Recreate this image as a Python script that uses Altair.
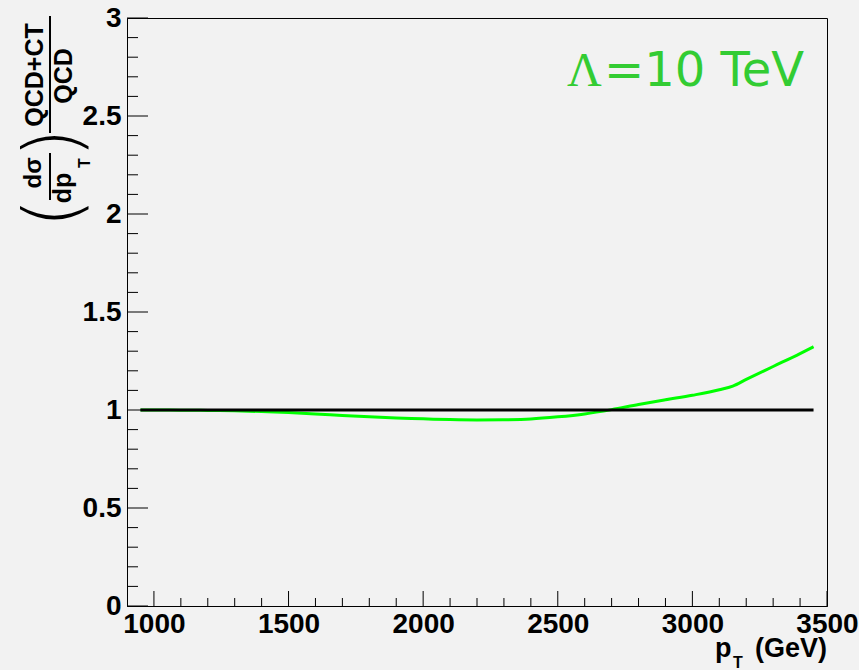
import altair as alt
import pandas as pd

# ---- data ----
pt = [950, 1000, 1100, 1200, 1300, 1400, 1500, 1600, 1700, 1800, 1900, 2000,
      2100, 2200, 2300, 2400, 2500, 2600, 2700, 2800, 2900, 3000, 3100, 3150,
      3200, 3300, 3400, 3450]
ratio = [1.000, 1.000, 0.999, 0.998, 0.996, 0.992, 0.987, 0.980, 0.972, 0.965,
         0.959, 0.955, 0.951, 0.949, 0.950, 0.954, 0.965, 0.980, 1.002, 1.028,
         1.052, 1.075, 1.103, 1.122, 1.156, 1.222, 1.288, 1.323]
ref_pt = [950, 3450]
ref_ratio = [1.0, 1.0]

x_major = [1000, 1500, 2000, 2500, 3000, 3500]
x_minor = [1100, 1200, 1300, 1400, 1600, 1700, 1800, 1900, 2100, 2200, 2300,
           2400, 2600, 2700, 2800, 2900, 3100, 3200, 3300, 3400]
y_major = [0, 0.5, 1, 1.5, 2, 2.5, 3]
y_minor = [0.1, 0.2, 0.3, 0.4, 0.6, 0.7, 0.8, 0.9, 1.1, 1.2, 1.3, 1.4, 1.6,
           1.7, 1.8, 1.9, 2.1, 2.2, 2.3, 2.4, 2.6, 2.7, 2.8, 2.9]

W, H = 700, 588
BG = "#f2f2f2"
FONT = "Liberation Sans"

xs = alt.Scale(domain=[900, 3500], nice=False, zero=False)
ys = alt.Scale(domain=[0, 3], nice=False, zero=False)

curve_df = pd.DataFrame({"pt": pt, "ratio": ratio})
ref_df = pd.DataFrame({"pt": ref_pt, "ratio": ref_ratio})
one = pd.DataFrame({"a": [0]})

x_axis = alt.Axis(values=x_major, format="d", ticks=False, grid=False, title=None,
                  domainColor="black", domainWidth=1, labelFont=FONT,
                  labelFontWeight="bold", labelFontSize=28, labelColor="black",
                  labelPadding=4, labelOverlap=False, labelFlush=False)
y_axis = alt.Axis(values=y_major, format="~g", ticks=False, grid=False, title=None,
                  domainColor="black", domainWidth=1, labelFont=FONT,
                  labelFontWeight="bold", labelFontSize=28, labelColor="black",
                  labelPadding=6, labelOverlap=False, labelFlush=False)

curve = alt.Chart(curve_df).mark_line(color="#00ff00", strokeWidth=3,
                                      interpolate="monotone").encode(
    x=alt.X("pt:Q", scale=xs, axis=x_axis),
    y=alt.Y("ratio:Q", scale=ys, axis=y_axis),
)
ref = alt.Chart(ref_df).mark_line(color="black", strokeWidth=3).encode(
    x=alt.X("pt:Q", scale=xs, axis=x_axis),
    y=alt.Y("ratio:Q", scale=ys, axis=y_axis),
)

xmaj = alt.Chart(pd.DataFrame({"v": x_major})).mark_rule(color="black", strokeWidth=1).encode(
    x=alt.X("v:Q", scale=xs, axis=x_axis), y=alt.value(H), y2=alt.value(H - 15))
xmin = alt.Chart(pd.DataFrame({"v": x_minor})).mark_rule(color="black", strokeWidth=1).encode(
    x=alt.X("v:Q", scale=xs, axis=x_axis), y=alt.value(H), y2=alt.value(H - 8))
ymaj = alt.Chart(pd.DataFrame({"v": y_major})).mark_rule(color="black", strokeWidth=1).encode(
    y=alt.Y("v:Q", scale=ys, axis=y_axis), x=alt.value(0), x2=alt.value(21))
ymin = alt.Chart(pd.DataFrame({"v": y_minor})).mark_rule(color="black", strokeWidth=1).encode(
    y=alt.Y("v:Q", scale=ys, axis=y_axis), x=alt.value(0), x2=alt.value(11))


def txt(s, x, y, size, angle=0, align="center", baseline="middle",
        weight="bold", font=FONT, color="black"):
    return alt.Chart(one).mark_text(
        text=s, angle=angle, align=align, baseline=baseline, fontSize=size,
        fontWeight=weight, font=font, color=color
    ).encode(x=alt.value(x), y=alt.value(y))


def bar(x, y1, y2):
    return alt.Chart(one).mark_rule(color="black", strokeWidth=2).encode(
        x=alt.value(x), y=alt.value(y1), y2=alt.value(y2))


# y-axis title pieces: (dσ/dp_T) (QCD+CT / QCD), rotated
ytitle = [
    txt("QCD+CT", -92, 57, 25, angle=270),
    bar(-77, -2, 115),
    txt("QCD", -63, 58, 25, angle=270),
    txt(")", -72, 125, 76, angle=270, weight=200, font="DejaVu Sans"),
    txt("dσ", -93, 155, 24, angle=270),
    bar(-77, 135, 182),
    txt("dp", -64, 170, 25, angle=270),
    txt("T", -42, 145, 16, angle=270),
    txt("(", -72, 195, 76, angle=270, weight=200, font="DejaVu Sans"),
]

# x-axis title: p_T (GeV)
xtitle = [
    txt("p", 588, 639, 27, align="left", baseline="alphabetic"),
    txt("T", 606, 650, 16, align="left", baseline="alphabetic"),
    txt("(GeV)", 700, 639, 27, align="right", baseline="alphabetic"),
]

label = [
    txt("Λ", 440, 68, 48, align="left", baseline="alphabetic", weight="normal",
        font="Liberation Serif", color="#33cc33"),
    txt("=10 TeV", 477, 68, 48, align="left", baseline="alphabetic", weight="normal",
        font="DejaVu Sans", color="#33cc33"),
]

chart = alt.layer(
    curve, ref, xmin, xmaj, ymin, ymaj, *ytitle, *xtitle, *label
).properties(
    width=W, height=H,
    background=BG,
    padding={"left": 127, "top": 18, "right": 32, "bottom": 64},
    autosize=alt.AutoSizeParams(type="none"),
).configure_view(
    fill=BG, stroke="black", strokeWidth=1
)

chart.save("out.html", embed_options={"renderer": "svg", "actions": False})
